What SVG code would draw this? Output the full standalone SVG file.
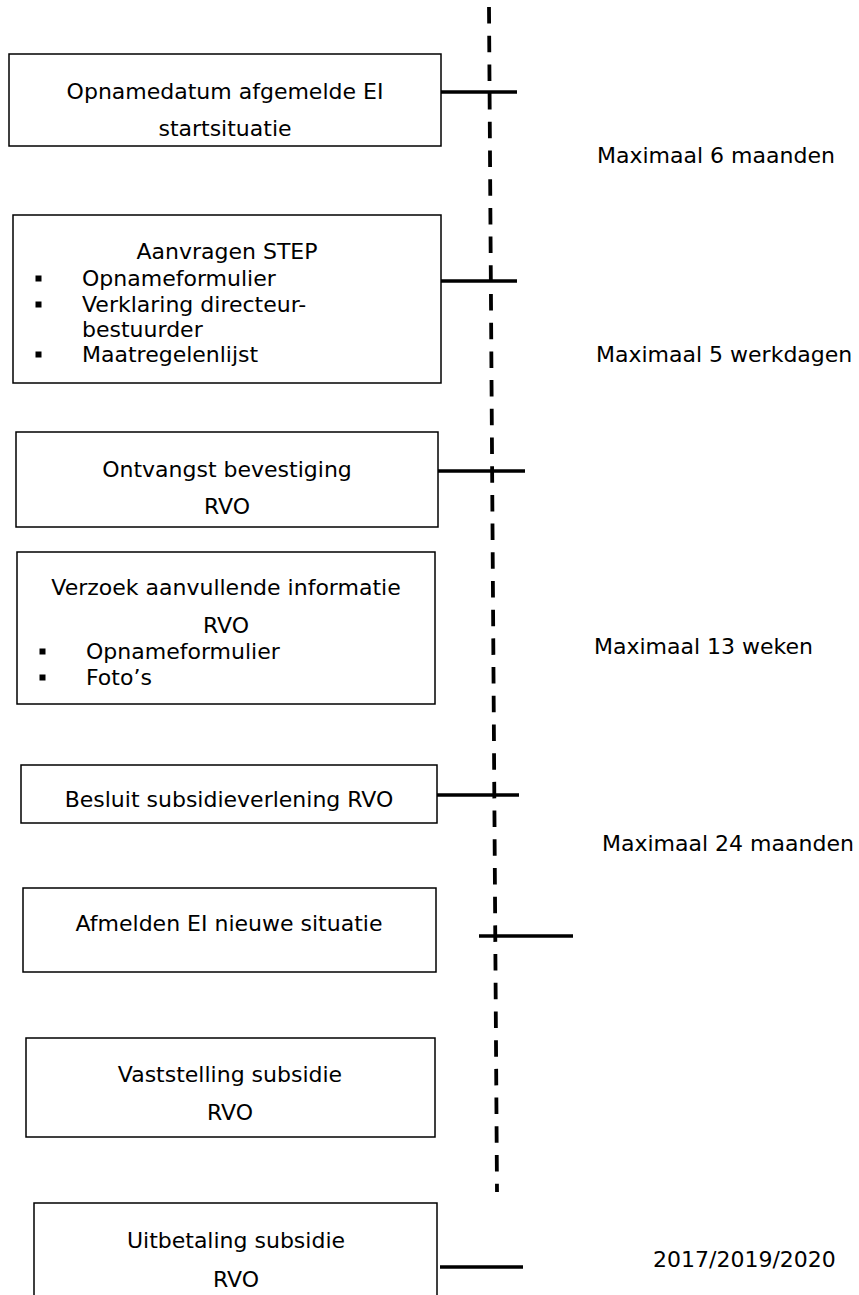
<svg xmlns="http://www.w3.org/2000/svg" width="859" height="1295" viewBox="0 0 859 1295">
<style>
.box{fill:#fff;stroke:#000;stroke-width:1.5}
text{font-family:"DejaVu Sans","Verdana",sans-serif;font-size:22px;fill:#000}
.c{text-anchor:middle}
.tick{stroke:#000;stroke-width:3.5;fill:none}
.dash{stroke:#000;stroke-width:3.8;fill:none;stroke-dasharray:16.5 12.2}
.bul{fill:#000}
</style>
<rect width="859" height="1295" fill="#fff"/>
<g id="connectors">
<line class="dash" x1="489" y1="7" x2="497" y2="1192"/>
<line class="tick" x1="441" y1="92" x2="517" y2="92"/>
<line class="tick" x1="441" y1="281" x2="517" y2="281"/>
<line class="tick" x1="438" y1="471" x2="525" y2="471"/>
<line class="tick" x1="437" y1="795" x2="519" y2="795"/>
<line class="tick" x1="479" y1="936" x2="573" y2="936"/>
<line class="tick" x1="440" y1="1267" x2="523" y2="1267"/>
</g>
<g id="node1">
<rect class="box" x="9" y="54" width="432" height="92"/>
<text class="c" x="225" y="99">Opnamedatum afgemelde EI</text>
<text class="c" x="225" y="136">startsituatie</text>
</g>
<g id="node2">
<rect class="box" x="13" y="215" width="428" height="168"/>
<text class="c" x="227" y="259">Aanvragen STEP</text>
<rect class="bul" x="35.5" y="275.5" width="6" height="6"/>
<text x="82" y="286">Opnameformulier</text>
<rect class="bul" x="35.5" y="301.5" width="6" height="6"/>
<text x="82" y="312">Verklaring directeur-</text>
<text x="82" y="337">bestuurder</text>
<rect class="bul" x="35.5" y="351.5" width="6" height="6"/>
<text x="82" y="362">Maatregelenlijst</text>
</g>
<g id="node3">
<rect class="box" x="16" y="432" width="422" height="95"/>
<text class="c" x="227" y="477">Ontvangst bevestiging</text>
<text class="c" x="227" y="514">RVO</text>
</g>
<g id="node4">
<rect class="box" x="17" y="552" width="418" height="152"/>
<text class="c" x="226" y="595">Verzoek aanvullende informatie</text>
<text class="c" x="226" y="633">RVO</text>
<rect class="bul" x="39.5" y="648.5" width="6" height="6"/>
<text x="86" y="659">Opnameformulier</text>
<rect class="bul" x="39.5" y="674.5" width="6" height="6"/>
<text x="86" y="685">Foto’s</text>
</g>
<g id="node5">
<rect class="box" x="21" y="765" width="416" height="58"/>
<text class="c" x="229" y="807">Besluit subsidieverlening RVO</text>
</g>
<g id="node6">
<rect class="box" x="23" y="888" width="413" height="84"/>
<text class="c" x="229" y="931">Afmelden EI nieuwe situatie</text>
</g>
<g id="node7">
<rect class="box" x="26" y="1038" width="409" height="99"/>
<text class="c" x="230" y="1082">Vaststelling subsidie</text>
<text class="c" x="230" y="1120">RVO</text>
</g>
<g id="node8">
<rect class="box" x="34" y="1203" width="403" height="100"/>
<text class="c" x="236" y="1248">Uitbetaling subsidie</text>
<text class="c" x="236" y="1287">RVO</text>
</g>
<g id="labels">
<text x="597" y="163">Maximaal 6 maanden</text>
<text x="596" y="362">Maximaal 5 werkdagen</text>
<text x="594" y="654">Maximaal 13 weken</text>
<text x="602" y="851">Maximaal 24 maanden</text>
<text x="653" y="1267">2017/2019/2020</text>
</g>
</svg>
